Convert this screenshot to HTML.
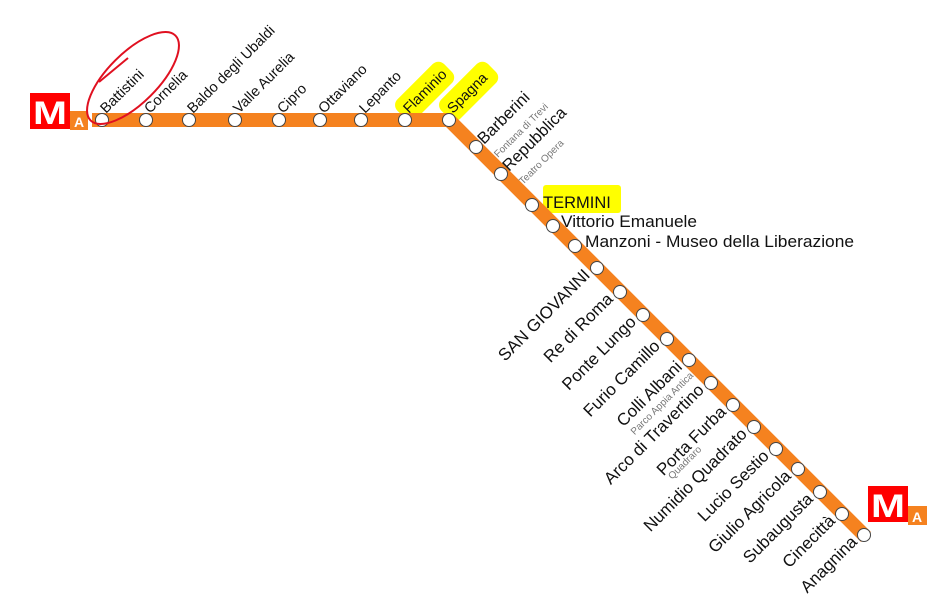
<!DOCTYPE html>
<html><head><meta charset="utf-8"><style>
html,body{margin:0;padding:0;background:#fff;width:952px;height:615px;overflow:hidden}
svg{display:block}
text{font-family:"Liberation Sans",sans-serif;fill:#111}
</style></head><body>
<svg width="952" height="615" viewBox="0 0 952 615" xmlns="http://www.w3.org/2000/svg">
<!-- highlights -->
<g fill="#ffff00">
<rect x="-8" y="-15" width="66" height="27" rx="8" transform="translate(408,110) rotate(-45)"/>
<rect x="-8" y="-15" width="66" height="27" rx="8" transform="translate(452,110) rotate(-45)"/>
<rect x="543" y="185" width="78" height="28" rx="3"/>
</g>
<!-- line -->
<polyline points="92,120 449,120 866,537" fill="none" stroke="#F5821F" stroke-width="14" stroke-linejoin="miter"/>
<!-- logos -->
<rect x="30" y="93" width="40" height="36" fill="#f00"/>
<text x="50" y="124" font-size="32" font-weight="bold" text-anchor="middle" style="fill:#fff" textLength="34" lengthAdjust="spacingAndGlyphs">M</text>
<rect x="70" y="111" width="18" height="19" fill="#F5821F"/>
<text x="79" y="127" font-size="14" font-weight="bold" text-anchor="middle" style="fill:#fff">A</text>
<rect x="868" y="486" width="40" height="36" fill="#f00"/>
<text x="888" y="517" font-size="32" font-weight="bold" text-anchor="middle" style="fill:#fff" textLength="34" lengthAdjust="spacingAndGlyphs">M</text>
<rect x="908" y="506" width="19" height="19" fill="#F5821F"/>
<text x="917" y="522" font-size="14" font-weight="bold" text-anchor="middle" style="fill:#fff">A</text>
<!-- stations -->
<g fill="#fff" stroke="#444" stroke-width="1">
<circle cx="102" cy="120" r="6.5"/><circle cx="146" cy="120" r="6.5"/><circle cx="189" cy="120" r="6.5"/>
<circle cx="235" cy="120" r="6.5"/><circle cx="279" cy="120" r="6.5"/><circle cx="320" cy="120" r="6.5"/>
<circle cx="361" cy="120" r="6.5"/><circle cx="405" cy="120" r="6.5"/><circle cx="449" cy="120" r="6.5"/>
<circle cx="476" cy="147" r="6.5"/><circle cx="501" cy="174" r="6.5"/><circle cx="532" cy="205" r="6.5"/>
<circle cx="553" cy="226" r="6.5"/><circle cx="575" cy="246" r="6.5"/><circle cx="597" cy="268" r="6.5"/>
<circle cx="620" cy="292" r="6.5"/><circle cx="643" cy="315" r="6.5"/><circle cx="667" cy="339" r="6.5"/>
<circle cx="689" cy="360" r="6.5"/><circle cx="711" cy="383" r="6.5"/><circle cx="733" cy="405" r="6.5"/>
<circle cx="754" cy="427" r="6.5"/><circle cx="776" cy="449" r="6.5"/><circle cx="798" cy="469" r="6.5"/>
<circle cx="820" cy="492" r="6.5"/><circle cx="842" cy="514" r="6.5"/><circle cx="864" cy="535" r="6.5"/>
</g>
<!-- top labels -->
<g font-size="14.5">
<text transform="translate(106,114) rotate(-45)">Battistini</text>
<text transform="translate(150,114) rotate(-45)">Cornelia</text>
<text transform="translate(193,114) rotate(-45)">Baldo degli Ubaldi</text>
<text transform="translate(239,114) rotate(-45)">Valle Aurelia</text>
<text transform="translate(283,114) rotate(-45)">Cipro</text>
<text transform="translate(324,114) rotate(-45)">Ottaviano</text>
<text transform="translate(365,114) rotate(-45)">Lepanto</text>
<text transform="translate(409,114) rotate(-45)">Flaminio</text>
<text transform="translate(453,114) rotate(-45)">Spagna</text>
<text transform="translate(484,145) rotate(-45)" font-size="16.5">Barberini</text>
<text transform="translate(509,172) rotate(-45)" font-size="16.5">Repubblica</text>
</g>
<g font-size="10">
<text transform="translate(498,158) rotate(-45)" style="fill:#777">Fontana di Trevi</text>
<text transform="translate(523,185) rotate(-45)" style="fill:#777">Teatro Opera</text>
<text transform="translate(694,376) rotate(-45)" text-anchor="end" style="fill:#777">Parco Appia Antica</text>
<text transform="translate(702,450) rotate(-45)" text-anchor="end" style="fill:#777">Quadraro</text>
</g>
<g font-size="16.5">
<text x="543" y="208">TERMINI</text>
<text x="561" y="227" textLength="136" lengthAdjust="spacingAndGlyphs">Vittorio Emanuele</text>
<text x="585" y="247" textLength="269" lengthAdjust="spacingAndGlyphs">Manzoni - Museo della Liberazione</text>
</g>
<!-- bottom labels -->
<g font-size="17" text-anchor="end">
<text transform="translate(591,276) rotate(-45)">SAN GIOVANNI</text>
<text transform="translate(614,300) rotate(-45)">Re di Roma</text>
<text transform="translate(637,323) rotate(-45)">Ponte Lungo</text>
<text transform="translate(661,347) rotate(-45)">Furio Camillo</text>
<text transform="translate(683,368) rotate(-45)">Colli Albani</text>
<text transform="translate(705,391) rotate(-45)">Arco di Travertino</text>
<text transform="translate(727,413) rotate(-45)">Porta Furba</text>
<text transform="translate(748,435) rotate(-45)">Numidio Quadrato</text>
<text transform="translate(770,457) rotate(-45)">Lucio Sestio</text>
<text transform="translate(792,477) rotate(-45)">Giulio Agricola</text>
<text transform="translate(814,500) rotate(-45)">Subaugusta</text>
<text transform="translate(836,522) rotate(-45)">Cinecittà</text>
<text transform="translate(858,543) rotate(-45)">Anagnina</text>
</g>
<!-- red circle -->
<ellipse cx="133" cy="78" rx="60" ry="25" transform="rotate(-45 133 78)" fill="none" stroke="#e01020" stroke-width="2"/>
<path d="M99,82 L128,58" stroke="#e01020" stroke-width="2" fill="none"/>
</svg>
</body></html>
